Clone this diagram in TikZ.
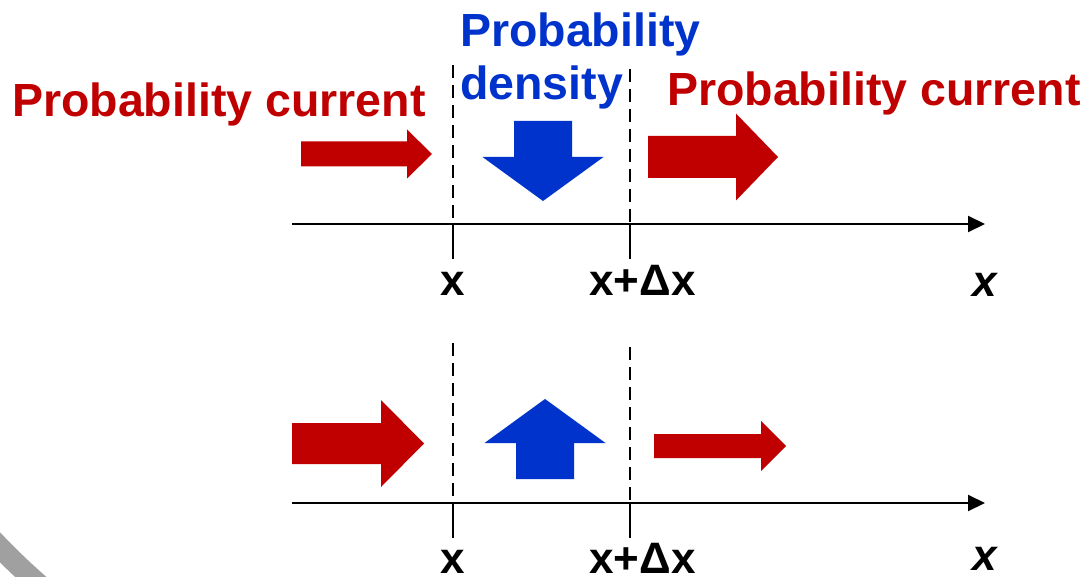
\documentclass[tikz,border=0pt]{standalone}
\usepackage{fontspec}
\setmainfont{Liberation Sans}
\usetikzlibrary{arrows.meta}
\definecolor{currentred}{RGB}{192,0,0}
\definecolor{densityblue}{RGB}{0,51,204}
\definecolor{arcgray}{RGB}{160,160,160}
% block arrows: colour, tail, neck, tip, middle, shaft half width, head half width
\newcommand{\harrow}[7]{\fill[#1] (#2,#5-#6) -- (#3,#5-#6) -- (#3,#5-#7) -- (#4,#5) -- (#3,#5+#7) -- (#3,#5+#6) -- (#2,#5+#6) -- cycle;}
\newcommand{\varrow}[7]{\fill[#1] (#5-#6,#2) -- (#5-#6,#3) -- (#5-#7,#3) -- (#5,#4) -- (#5+#7,#3) -- (#5+#6,#3) -- (#5+#6,#2) -- cycle;}
\tikzset{
  bigtext/.style={font=\fontsize{46.5}{53}\selectfont\bfseries,inner sep=0pt,anchor=base west},
  ticktext/.style={font=\fontsize{44}{50}\selectfont\bfseries,inner sep=0pt},
  axisline/.style={line width=2pt,-{Triangle[length=17pt,width=16pt]}},
  boundary/.style={line width=2pt,dash pattern=on 13pt off 7pt},
}
\begin{document}
\begin{tikzpicture}[x=1pt,y=-1pt]
\useasboundingbox (0,0) rectangle (1089,577);
\clip (0,0) rectangle (1089,577);
% slide decoration in the corner
\draw[arcgray,line width=21pt] (480,80) ++(125:670) arc[start angle=125,end angle=145,radius=670];
% texts
\node[bigtext,currentred] (inL) at (12,117) {Probability current};
\node[bigtext,densityblue] (dens1) at (460,47) {Probability};
\node[bigtext,densityblue] (dens2) at (460,100) {density};
\node[bigtext,currentred] (outR) at (667,106) {Probability current};
% two panels: axis at y, tick labels at baseline
\foreach \ya/\yb/\yt/\ys/\pn in {224/65/295/297/top,503/343/573/570/bot}{
  \coordinate (O\pn) at (292,\ya);
  \coordinate (E\pn) at (985,\ya);
  \draw[axisline] (O\pn) -- (E\pn);
  \coordinate (La\pn) at (453,\yb);
  \coordinate (Lb\pn) at (453,\ya);
  \coordinate (Lc\pn) at (453,\ya+35);
  \coordinate (Ra\pn) at (630,\yb+4);
  \coordinate (Rb\pn) at (630,\ya);
  \coordinate (Rc\pn) at (630,\ya+35);
  \draw[boundary] (La\pn) -- (Lb\pn);
  \draw[boundary] (Ra\pn) -- (Rb\pn);
  \draw[line width=2pt] (Lb\pn) -- (Lc\pn);
  \draw[line width=2pt] (Rb\pn) -- (Rc\pn);
  \node[ticktext,anchor=base] (tx\pn) at (453,\yt) {x};
  \node[ticktext,anchor=base west] (tdx\pn) at (589,\yt) {x+Δx};
  \node[ticktext,anchor=base,font=\fontsize{44}{50}\selectfont\bfseries\itshape] (ax\pn) at (985,\ys) {x};
}
% outflow larger than inflow: density falls
\harrow{currentred}{301}{407}{432}{154}{12.5}{24.5}
\varrow{densityblue}{121}{157}{201}{543}{29}{60.5}
\harrow{currentred}{648}{736}{778}{157}{21}{43.5}
% inflow larger than outflow: density rises
\harrow{currentred}{292}{381}{424}{443.5}{20.5}{43.5}
\varrow{densityblue}{479}{443}{399}{545}{29}{60.5}
\harrow{currentred}{654}{761}{786}{446}{12}{25}
\end{tikzpicture}
\end{document}
